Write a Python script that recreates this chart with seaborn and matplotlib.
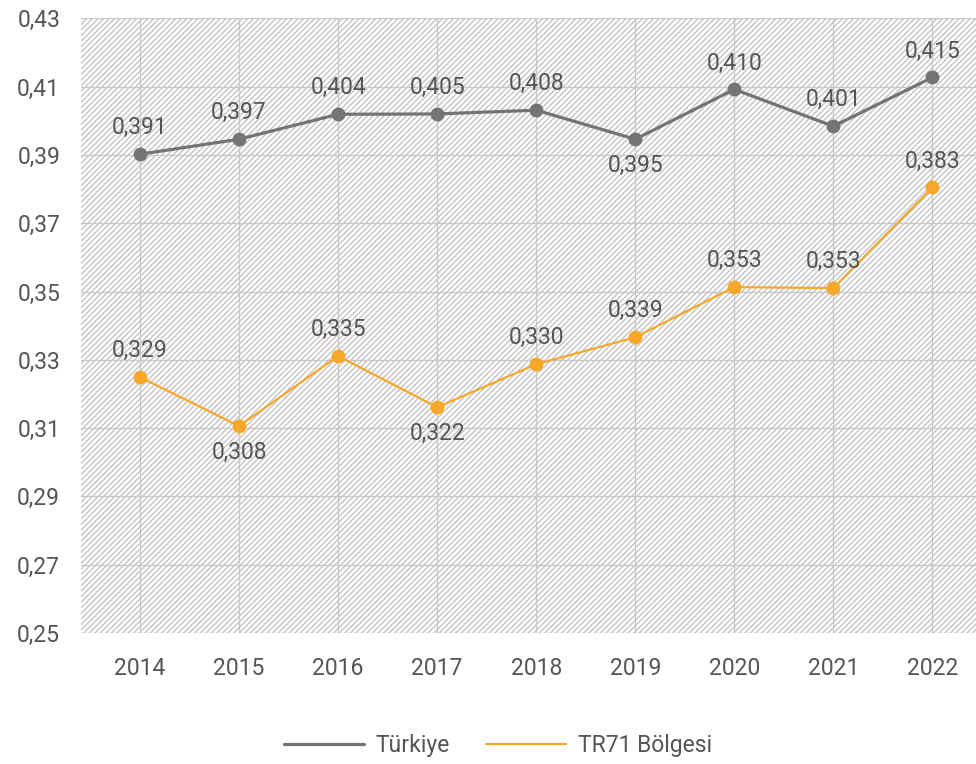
import pandas as pd
import numpy as np
import seaborn as sns
from matplotlib import pyplot as plt
from matplotlib.patches import Rectangle
from matplotlib.ticker import FuncFormatter

years = ['2014', '2015', '2016', '2017', '2018', '2019', '2020', '2021', '2022']
turkiye = [0.3902, 0.3946, 0.4019, 0.4020, 0.4031, 0.3946, 0.4092, 0.3984, 0.4127]
tr71 = [0.3249, 0.3106, 0.3311, 0.3161, 0.3287, 0.3366, 0.3513, 0.3510, 0.3805]
turkiye_labels = ['0,391', '0,397', '0,404', '0,405', '0,408', '0,395', '0,410', '0,401', '0,415']
tr71_labels = ['0,329', '0,308', '0,335', '0,322', '0,330', '0,339', '0,353', '0,353', '0,383']
turkiye_below = [False, False, False, False, False, True, False, False, False]
tr71_below = [False, True, False, True, False, False, False, False, False]
series_names = ['Türkiye', 'TR71 Bölgesi']
yticks = [0.25, 0.27, 0.29, 0.31, 0.33, 0.35, 0.37, 0.39, 0.41, 0.43]

sns.set_style('white')
plt.rcParams['font.family'] = ['Roboto', 'DejaVu Sans']
plt.rcParams['hatch.linewidth'] = 0.8
text_col = '#555555'
colors = {'Türkiye': '#747474', 'TR71 Bölgesi': '#F7A72A'}
fs = 16.5

df = pd.DataFrame({
    'year': list(range(len(years))) * 2,
    'value': turkiye + tr71,
    'series': [series_names[0]] * len(years) + [series_names[1]] * len(years),
})

fig = plt.figure(figsize=(9.76, 7.64), dpi=100)
ax = fig.add_axes([0.083, 0.1715, 0.917, 0.8045])

# hatched background
ax.add_patch(Rectangle((0, 0), 1, 1, transform=ax.transAxes, fill=False,
                       hatch='//////', edgecolor='#b8b8b8', linewidth=0, zorder=0))

for name in series_names:
    sub = df[df.series == name]
    lw = 2.3 if name == 'Türkiye' else 1.6
    sns.lineplot(data=sub, x='year', y='value', color=colors[name], linewidth=lw,
                 marker='o', markersize=10, markeredgewidth=0, ax=ax, label=name,
                 zorder=3, legend=False)

# data labels
for vals, labs, below in [(turkiye, turkiye_labels, turkiye_below), (tr71, tr71_labels, tr71_below)]:
    for i, (v, lab, b) in enumerate(zip(vals, labs, below)):
        ax.annotate(lab, (i, v), xytext=(0, -19 if b else 19), textcoords='offset points',
                    ha='center', va='center', fontsize=fs, color=text_col, zorder=4)

ax.set_ylim(0.25, 0.43)
ax.set_xlim(-0.596, 8.44)
ax.set_yticks(yticks)
ax.yaxis.set_major_formatter(FuncFormatter(lambda v, p: f'{v:.2f}'.replace('.', ',')))
ax.set_xticks(range(len(years)))
ax.set_xticklabels(years)
ax.grid(True, color='#c8c8c8', linewidth=1, zorder=1)
ax.set_axisbelow(True)
for s in ax.spines.values():
    s.set_visible(False)
ax.tick_params(axis='y', length=0, pad=15, labelsize=fs, labelcolor=text_col)
ax.tick_params(axis='x', length=0, pad=17, labelsize=fs, labelcolor=text_col)
ax.set_xlabel('')
ax.set_ylabel('')

handles = [plt.Line2D([], [], color=colors[n], linewidth=2.3 if n == 'Türkiye' else 1.6) for n in series_names]
leg = fig.legend(handles, series_names, loc='lower center', ncol=2, frameon=False,
                 bbox_to_anchor=(0.51, -0.018), handlelength=3.5, columnspacing=1.6,
                 handletextpad=0.5, fontsize=fs)
for t in leg.get_texts():
    t.set_color(text_col)

plt.savefig('out.png', dpi=100)
